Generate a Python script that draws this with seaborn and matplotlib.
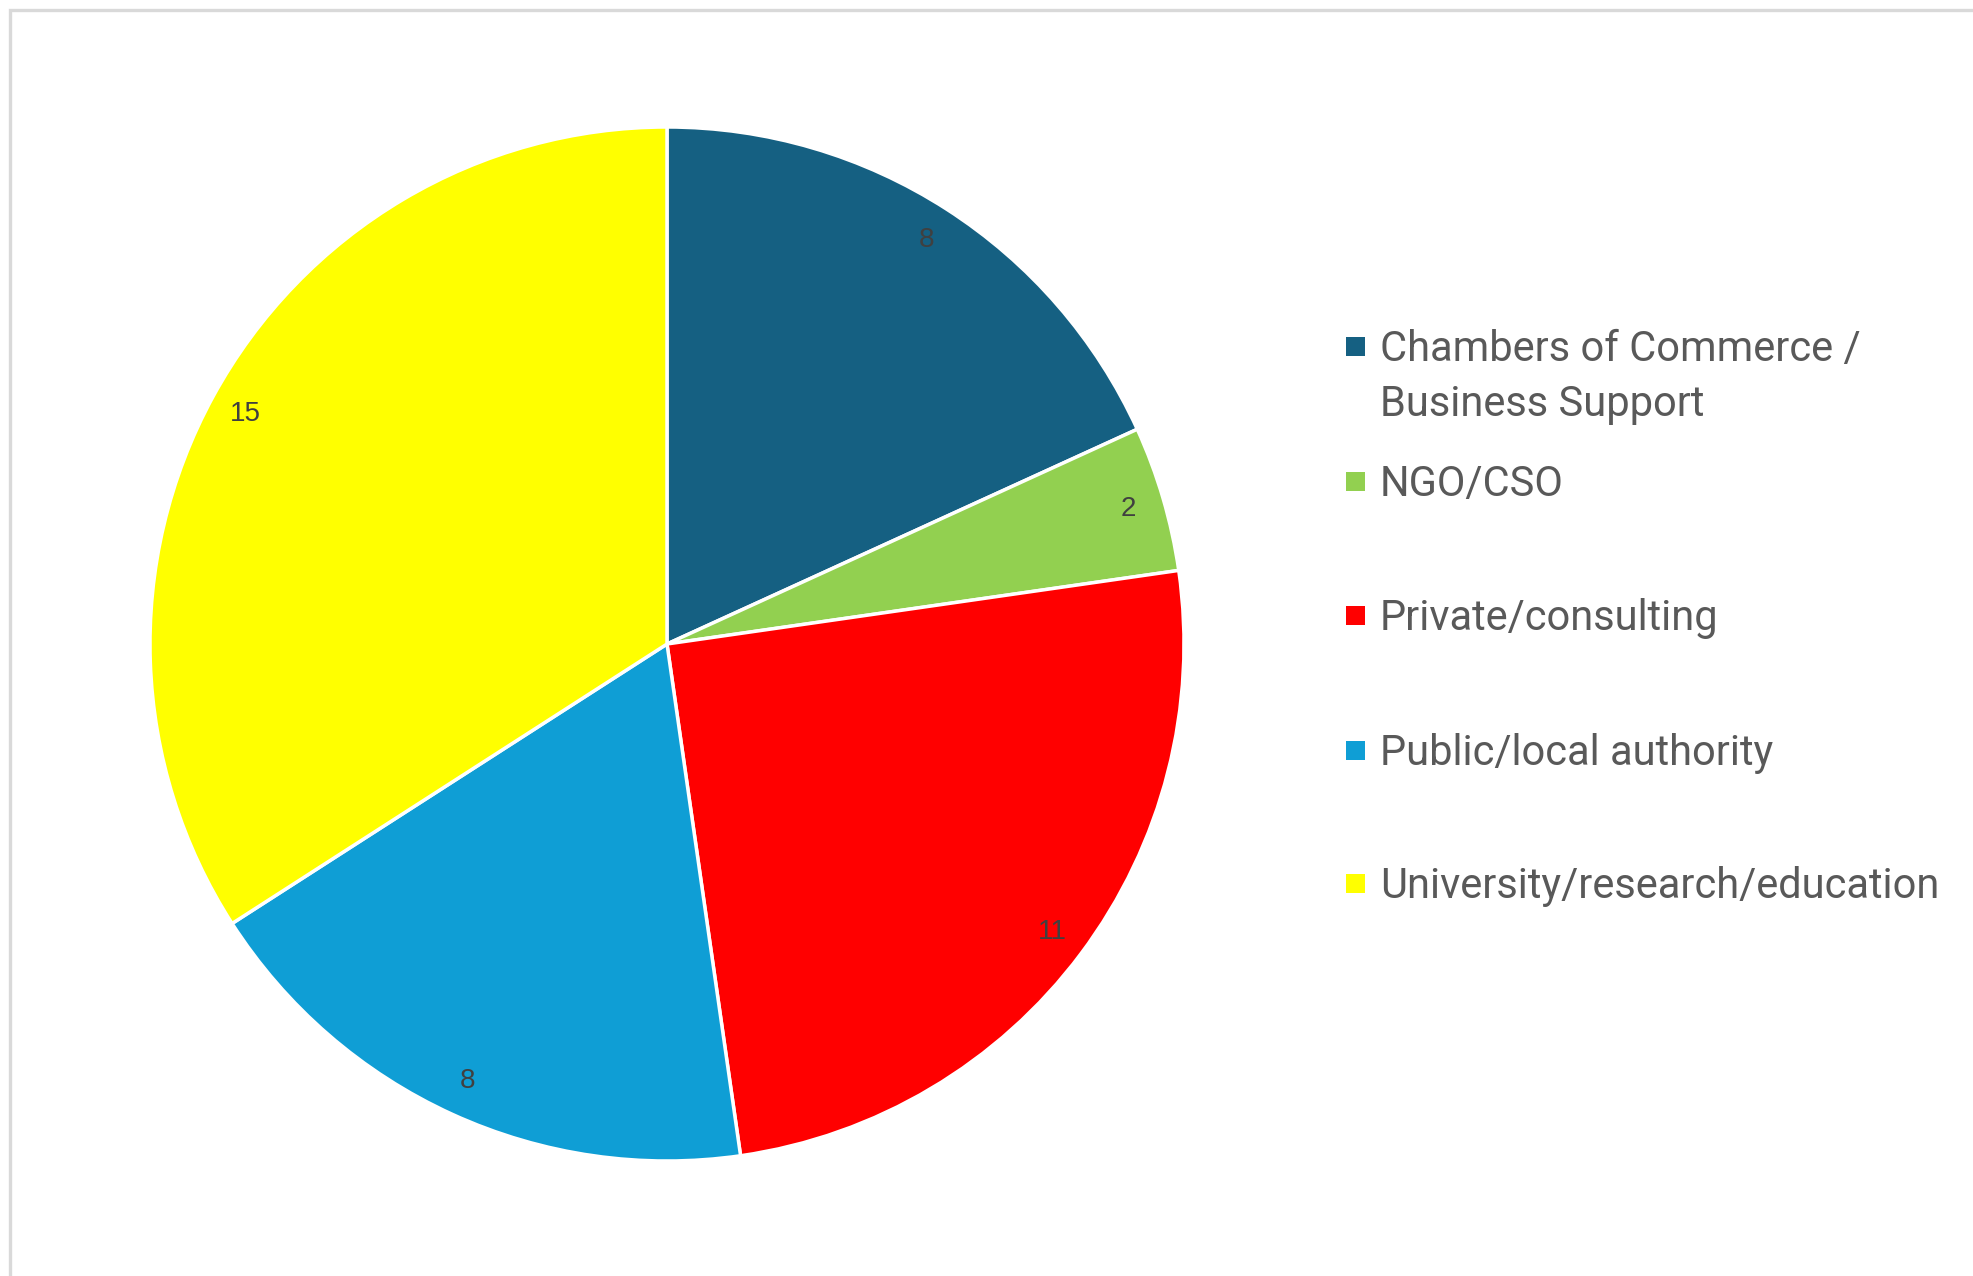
import matplotlib
matplotlib.use("Agg")
import matplotlib.pyplot as plt
import seaborn as sns
from matplotlib.patches import Rectangle

# Data
categories = ["Chambers of Commerce /\nBusiness Support", "NGO/CSO", "Private/consulting",
              "Public/local authority", "University/research/education"]
counts = [8, 2, 11, 8, 15]
colours = ["#156082", "#92D050", "#FF0000", "#0F9ED5", "#FFFF00"]

sns.set_theme(style="white")
plt.rcParams["font.family"] = ["Roboto", "DejaVu Sans"]

W, H = 1973, 1276
fig = plt.figure(figsize=(W / 100, H / 100), dpi=100)
fig.patch.set_facecolor("white")

# light grey chart-area frame (runs off right/bottom edges)
fig.patches.append(Rectangle((10 / W, -0.1), 1.2, (H - 10) / H + 0.1, transform=fig.transFigure,
                             facecolor="none", edgecolor="#d9d9d9", linewidth=2.4))

# Pie: centre (667, 644) px from top-left, radius ~517 px
cx, cy, r = 667, 644, 517
ax = fig.add_axes([(cx - r) / W, (H - cy - r) / H, 2 * r / W, 2 * r / H])
total = sum(counts)
palette = sns.color_palette(colours)
wedges, texts, autotexts = ax.pie(
    counts, colors=palette, startangle=90, counterclock=False, radius=1,
    autopct=lambda p: f"{round(p * total / 100):d}", pctdistance=0.93,
    wedgeprops=dict(edgecolor="white", linewidth=2.5),
    textprops=dict(color="#404040", fontsize=20, family=["Liberation Sans", "DejaVu Sans"]))
ax.set_xlim(-1, 1)
ax.set_ylim(-1, 1)

# Legend, Excel style: square marker aligned with first text line
leg_y = [346, 481, 615, 750, 883]
for lab, col, y in zip(categories, colours, leg_y):
    fig.patches.append(Rectangle((1346 / W, (H - y - 9.5) / H), 19 / W, 19 / H,
                                 transform=fig.transFigure, facecolor=col, edgecolor="none"))
    fig.text(1380 / W, (H - y + 17) / H, lab, ha="left", va="top",
             fontsize=30, color="#595959", linespacing=1.43)

fig.savefig("out.png", dpi=100)
